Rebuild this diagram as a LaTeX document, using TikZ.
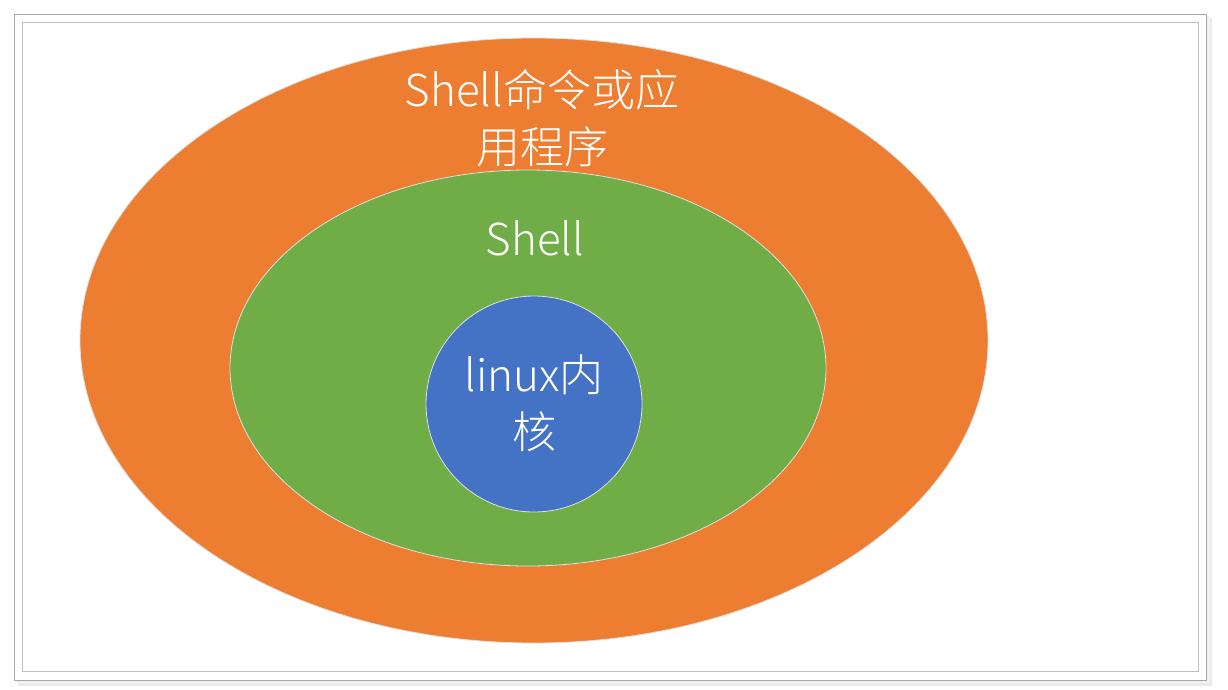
\documentclass[tikz,border=0pt]{standalone}
\usepackage{fontspec}
\usetikzlibrary{shapes.geometric}
\newfontfamily\cjk{Noto Sans CJK SC Light}
\definecolor{oorange}{RGB}{237,125,49}
\definecolor{ogreen}{RGB}{112,173,71}
\definecolor{oblue}{RGB}{68,114,196}
\tikzset{
  blob/.style={draw=white!75!gray, line width=0.8pt, inner sep=0pt},
  lbl/.style={text=white, font=\cjk\fontsize{44}{57}\selectfont, align=center, inner sep=0pt}
}
\begin{document}
\begin{tikzpicture}[x=1pt,y=-1pt]
\useasboundingbox (0,0) rectangle (1228,689);
\fill[white] (0,0) rectangle (1228,689);
% shadow
\fill[black!8] (18,18) rectangle (1212,686);
\fill[black!5] (16,16) rectangle (1210,683);
\draw[draw=black!35, fill=white, line width=1pt] (14,14) rectangle (1206,680);
\draw[draw=black!25, line width=1pt] (22,22) rectangle (1198,671);
% shapes
\node[blob, fill=oorange, ellipse, minimum width=908pt, minimum height=605pt] (outer) at (534,340.5) {};
\node[blob, fill=ogreen, ellipse, minimum width=596pt, minimum height=396pt] (mid) at (528,368) {};
\node[blob, fill=oblue, circle, minimum size=216pt] (core) at (534,404) {};
\node[lbl] (t1) at (542,118) {Shell命令或应\\用程序};
\node[lbl] (t2) at (535,238) {Shell};
\node[lbl] (t3) at (534,403) {linux内\\核};
\end{tikzpicture}
\end{document}
